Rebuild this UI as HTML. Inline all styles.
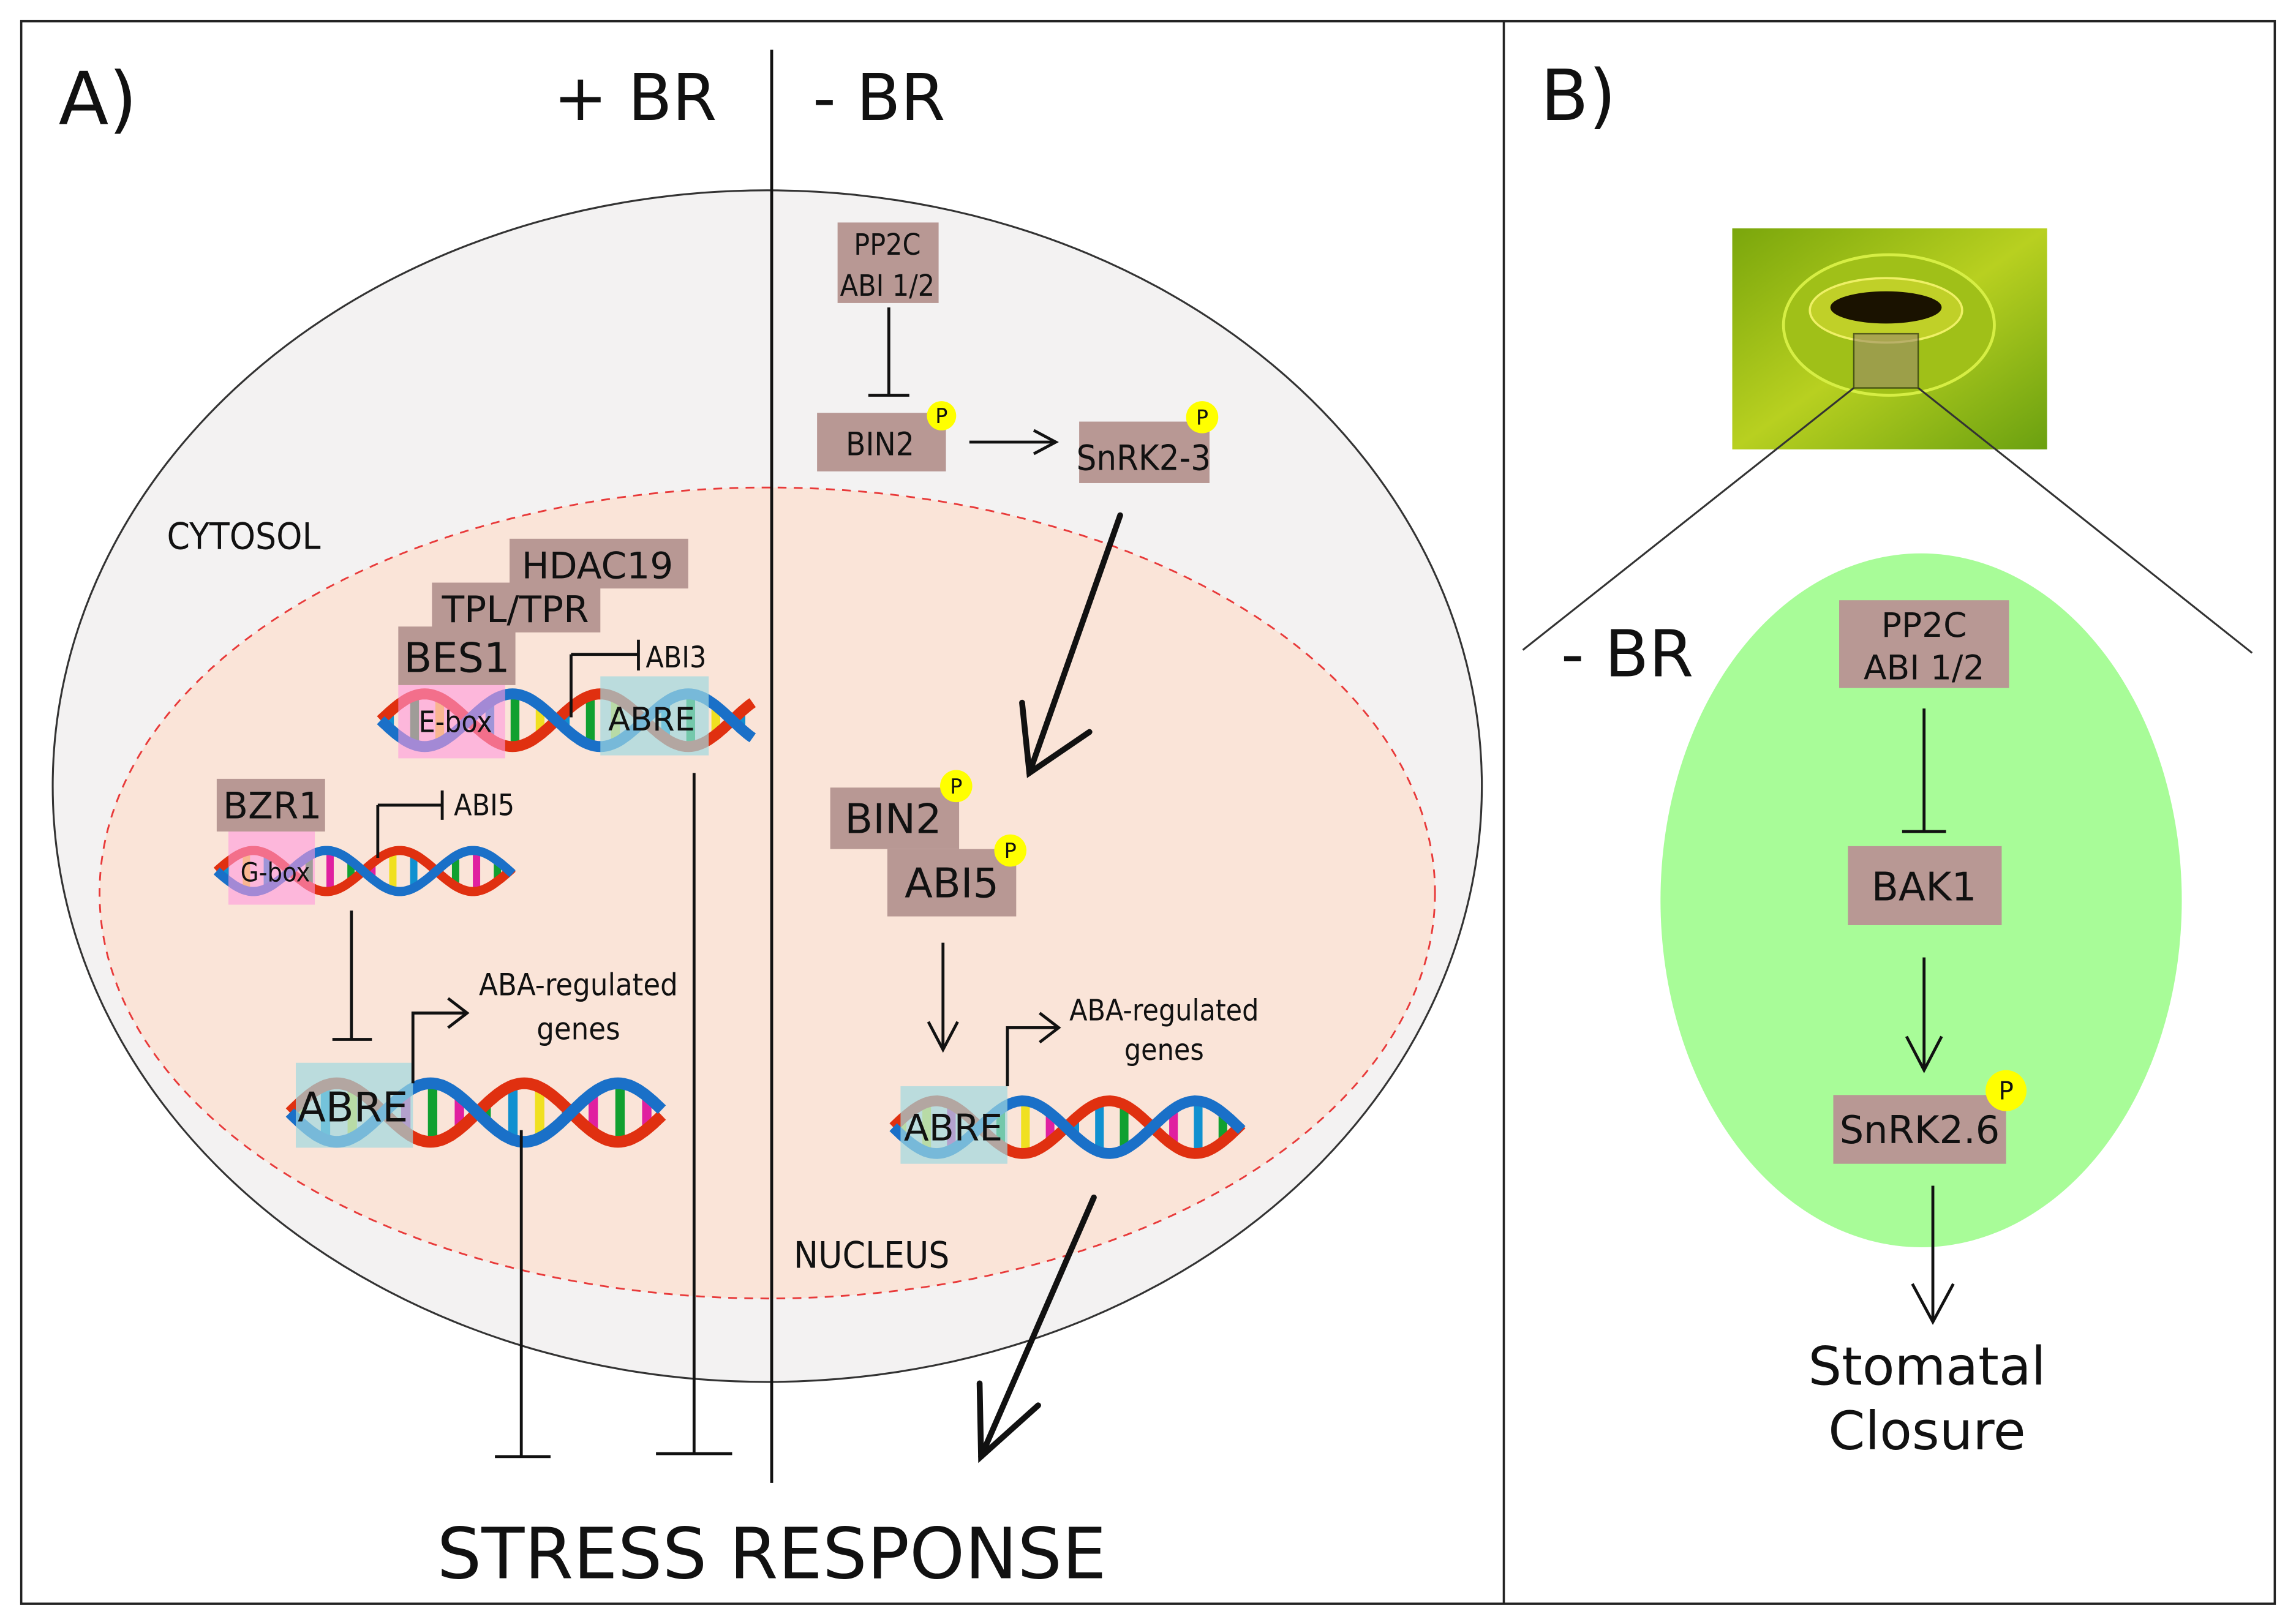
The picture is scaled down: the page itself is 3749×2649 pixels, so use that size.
<!DOCTYPE html>
<html><head><meta charset="utf-8">
<style>
html,body{margin:0;padding:0;background:#fff}
svg{display:block}
text{font-family:"DejaVu Sans","Liberation Sans",sans-serif;fill:#111}
.c{font-family:"DejaVu Sans Condensed","DejaVu Sans","Liberation Sans",sans-serif}
</style></head><body>
<svg id="s" width="3749" height="2649" viewBox="0 0 1568 1108" preserveAspectRatio="none" xmlns="http://www.w3.org/2000/svg">
<defs>
<linearGradient id="g1" x1="0" y1="0" x2="1" y2="1">
<stop offset="0" stop-color="#7aa60c"/><stop offset="0.5" stop-color="#b8d020"/><stop offset="1" stop-color="#6aa010"/>
</linearGradient>
</defs>
<rect x="0" y="0" width="1568" height="1108" fill="#fff"/>
<rect x="14.5" y="14.5" width="1539" height="1081" fill="none" stroke="#222" stroke-width="1.5"/>
<line x1="1027" y1="14" x2="1027" y2="1096" stroke="#222" stroke-width="1.5"/>

<ellipse cx="524" cy="537" rx="488" ry="407" fill="#f3f2f2" stroke="#333" stroke-width="1.3"/>
<ellipse cx="524" cy="610" rx="456" ry="277" fill="#fae4d8" stroke="#e83a3a" stroke-width="1.2" stroke-dasharray="6,5"/>
<line x1="527" y1="34" x2="527" y2="1013" stroke="#111" stroke-width="2"/>

<text x="40" y="85" font-size="50">A)</text>
<text x="378" y="82" font-size="44">+ BR</text>
<text x="555" y="82" font-size="44">- BR</text>
<text x="1052" y="82" font-size="48">B)</text>
<text x="114" y="375" font-size="25" class="c">CYTOSOL</text>
<text x="542" y="866" font-size="25" class="c">NUCLEUS</text>

<g fill="#b89894">
<rect x="572" y="152" width="69" height="55"/>
<rect x="558" y="282" width="88" height="40"/>
<rect x="737" y="288" width="89" height="42"/>
<rect x="348" y="368" width="122" height="34"/>
<rect x="295" y="398" width="115" height="34"/>
<rect x="272" y="428" width="80" height="40"/>
<rect x="148" y="532" width="74" height="36"/>
<rect x="567" y="538" width="88" height="42"/>
<rect x="606" y="580" width="88" height="46"/>
</g>

<text x="606" y="174" font-size="20" text-anchor="middle" class="c">PP2C</text>
<text x="606" y="202" font-size="20" text-anchor="middle" class="c">ABI 1/2</text>
<text x="601" y="311" font-size="22" text-anchor="middle" class="c">BIN2</text>
<text x="781" y="321" font-size="24" text-anchor="middle" class="c">SnRK2-3</text>
<text x="408" y="395" font-size="25" text-anchor="middle">HDAC19</text>
<text x="352" y="425" font-size="25" text-anchor="middle">TPL/TPR</text>
<text x="312" y="459" font-size="28" text-anchor="middle">BES1</text>
<text x="186" y="559" font-size="25" text-anchor="middle">BZR1</text>
<text x="610" y="569" font-size="28" text-anchor="middle">BIN2</text>
<text x="650" y="613" font-size="28" text-anchor="middle">ABI5</text>

<g fill="#ffff00">
<circle cx="643" cy="284" r="10"/><circle cx="821" cy="285" r="11"/>
<circle cx="653" cy="537" r="11"/><circle cx="690" cy="581" r="11"/>
</g>
<g font-size="14" text-anchor="middle">
<text x="643" y="289">P</text><text x="821" y="290">P</text>
<text x="653" y="542">P</text><text x="690" y="586">P</text>
</g>

<g id="dna"></g>

<rect x="272" y="468" width="73" height="50" fill="#ff99dd" opacity="0.6"/>
<rect x="410" y="462" width="74" height="54" fill="#9fd8e0" opacity="0.7"/>
<rect x="156" y="568" width="59" height="50" fill="#ff99dd" opacity="0.6"/>
<rect x="202" y="726" width="80" height="58" fill="#9fd8e0" opacity="0.7"/>
<rect x="615" y="742" width="73" height="53" fill="#9fd8e0" opacity="0.7"/>
<text x="311" y="500" font-size="20" text-anchor="middle" class="c">E-box</text>
<text x="445" y="499" font-size="22" text-anchor="middle">ABRE</text>
<text x="188" y="602" font-size="18" text-anchor="middle" class="c">G-box</text>
<text x="241" y="766" font-size="28" text-anchor="middle">ABRE</text>
<text x="651" y="779" font-size="25" text-anchor="middle">ABRE</text>

<g stroke="#111" stroke-width="2" fill="none">
<line x1="607" y1="210" x2="607" y2="270"/><line x1="593" y1="270" x2="621" y2="270"/>
<line x1="662" y1="302" x2="720" y2="302"/><polyline points="706,294 721,302 706,310"/>
<line x1="390" y1="490" x2="390" y2="447"/><line x1="390" y1="447" x2="436" y2="447"/><line x1="436" y1="437" x2="436" y2="458"/>
<line x1="258" y1="586" x2="258" y2="550"/><line x1="258" y1="550" x2="302" y2="550"/><line x1="302" y1="540" x2="302" y2="560"/>
<line x1="240" y1="622" x2="240" y2="710"/><line x1="227" y1="710" x2="254" y2="710"/>
<polyline points="282,740 282,692 318,692"/><polyline points="306,682 319,692 306,702"/>
<line x1="356" y1="772" x2="356" y2="995"/><line x1="338" y1="995" x2="376" y2="995"/>
<line x1="474" y1="528" x2="474" y2="993"/><line x1="448" y1="993" x2="500" y2="993"/>
<line x1="644" y1="644" x2="644" y2="716"/><polyline points="634,698 644,717 654,698"/>
<polyline points="688,742 688,702 722,702"/><polyline points="710,692 723,702 710,712"/>
</g>
<g stroke="#111" stroke-width="4" fill="none" stroke-linecap="round">
<line x1="765" y1="352" x2="703" y2="528"/><polyline points="698,480 703,528 744,500"/>
<line x1="747" y1="818" x2="670" y2="995"/><polyline points="669,945 670,995 709,960"/>
</g>

<text x="395" y="680" font-size="21" text-anchor="middle" class="c">ABA-regulated</text>
<text x="395" y="710" font-size="21" text-anchor="middle" class="c">genes</text>
<text x="795" y="697" font-size="20" text-anchor="middle" class="c">ABA-regulated</text>
<text x="795" y="724" font-size="20" text-anchor="middle" class="c">genes</text>
<text x="441" y="456" font-size="20" class="c">ABI3</text>
<text x="310" y="557" font-size="20" class="c">ABI5</text>

<text x="527" y="1078" font-size="48" text-anchor="middle">STRESS RESPONSE</text>

<!-- panel B -->
<rect x="1183" y="156" width="215" height="151" fill="url(#g1)"/>
<ellipse cx="1290" cy="222" rx="72" ry="48" fill="#a0c018" stroke="#d6ee44" stroke-width="2"/>
<ellipse cx="1288" cy="212" rx="52" ry="22" fill="#c0d028" stroke="#eef066" stroke-width="1.5"/>
<ellipse cx="1288" cy="210" rx="38" ry="11" fill="#1a1200"/>
<rect x="1266" y="228" width="44" height="37" fill="#9a8a6a" opacity="0.6" stroke="#111" stroke-width="1"/>
<line x1="1266" y1="265" x2="1040" y2="444" stroke="#333" stroke-width="1.3"/>
<line x1="1310" y1="265" x2="1538" y2="446" stroke="#333" stroke-width="1.3"/>

<ellipse cx="1312" cy="615" rx="178" ry="237" fill="#a8fc98"/>
<text x="1066" y="462" font-size="44">- BR</text>
<g fill="#b89894">
<rect x="1256" y="410" width="116" height="60"/>
<rect x="1262" y="578" width="105" height="54"/>
<rect x="1252" y="748" width="118" height="47"/>
</g>
<text x="1314" y="435" font-size="23" text-anchor="middle">PP2C</text>
<text x="1314" y="464" font-size="23" text-anchor="middle">ABI 1/2</text>
<text x="1314" y="615" font-size="27" text-anchor="middle">BAK1</text>
<text x="1311" y="781" font-size="26" text-anchor="middle">SnRK2.6</text>
<circle cx="1370" cy="745" r="14" fill="#ffff00"/>
<text x="1370" y="751" font-size="17" text-anchor="middle">P</text>
<g stroke="#111" stroke-width="2" fill="none">
<line x1="1314" y1="484" x2="1314" y2="568"/><line x1="1299" y1="568" x2="1329" y2="568"/>
<line x1="1314" y1="654" x2="1314" y2="730"/><polyline points="1302,708 1314,731 1326,708"/>
<line x1="1320" y1="810" x2="1320" y2="902"/><polyline points="1306,877 1320,903 1334,877"/>
</g>
<text x="1316" y="946" font-size="36" text-anchor="middle">Stomatal</text>
<text x="1316" y="990" font-size="36" text-anchor="middle">Closure</text>
</svg>
<script>
(function(){
var NS="http://www.w3.org/2000/svg",g=document.getElementById("dna");
function dna(x0,x1,y,a,p){
  var cols=["#f0e020","#e020a0","#1090d0","#10a030"];
  for(var x=x0+6;x<x1-4;x+=p/7){
    var s=Math.sin((x-x0)/p*2*Math.PI);
    var l=document.createElementNS(NS,"line");
    var h=Math.abs(s)*a;
    l.setAttribute("x1",x);l.setAttribute("x2",x);
    l.setAttribute("y1",y-h);l.setAttribute("y2",y+h);
    l.setAttribute("stroke",cols[Math.floor(x)%4]);l.setAttribute("stroke-width",p/20);
    g.appendChild(l);
  }
  [["#e03010",0],["#1a70c8",Math.PI]].forEach(function(c){
    var d="";
    for(var x=x0;x<=x1;x+=2){var yy=y-a*Math.sin((x-x0)/p*2*Math.PI+c[1]);d+=(d?"L":"M")+x+","+yy.toFixed(1);}
    var pa=document.createElementNS(NS,"path");pa.setAttribute("d",d);pa.setAttribute("fill","none");
    pa.setAttribute("stroke",c[0]);pa.setAttribute("stroke-width",Math.max(4,p/16));
    g.appendChild(pa);
  });
}
dna(260,514,492,18,120);
dna(148,350,595,14,100);
dna(198,452,760,20,128);
dna(610,848,770,18,118);
})();
</script>
</body></html>
